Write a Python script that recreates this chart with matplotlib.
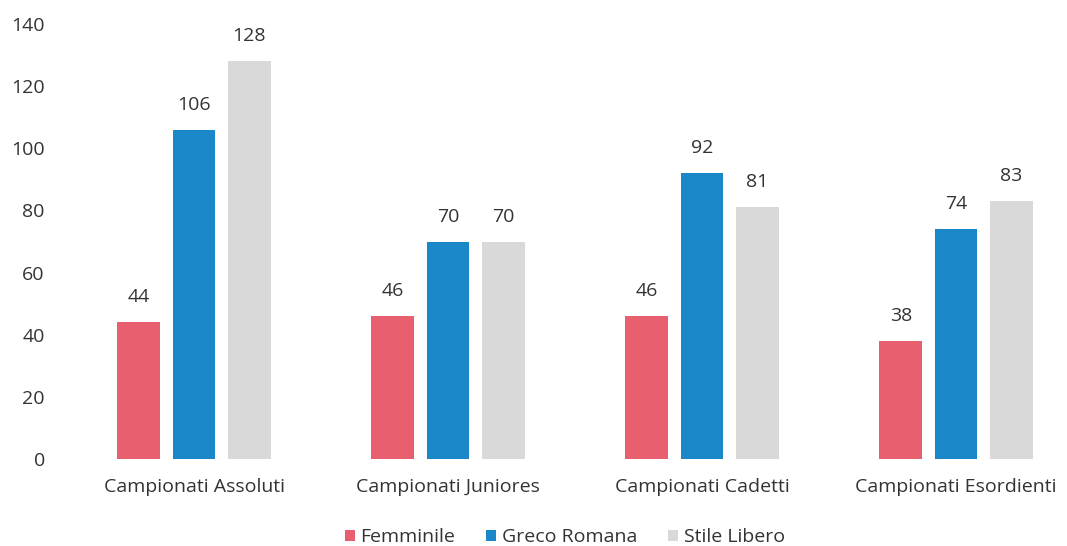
import numpy as np
import matplotlib.pyplot as plt

plt.rcParams['font.family'] = ['Open Sans', 'DejaVu Sans']

categories = ["Campionati Assoluti", "Campionati Juniores", "Campionati Cadetti", "Campionati Esordienti"]
series = ["Femminile", "Greco Romana", "Stile Libero"]
femminile = [44, 46, 46, 38]
greco_romana = [106, 70, 92, 74]
stile_libero = [128, 70, 81, 83]
colors = ["#E8606F", "#1A88C8", "#D9D9D9"]

fig = plt.figure(figsize=(10.67, 5.46), dpi=100)
ax = fig.add_axes([67 / 1067, (546 - 459) / 546, 1 - 67 / 1067, 435 / 546])

x = np.arange(len(categories))
width = 0.169
step = 0.217
for i, (vals, name, col) in enumerate(zip([femminile, greco_romana, stile_libero], series, colors)):
    bars = ax.bar(x + (i - 1) * step, vals, width, color=col, label=name)
    for b, v in zip(bars, vals):
        ax.annotate(str(v), (b.get_x() + b.get_width() / 2, v), xytext=(0, 18),
                    textcoords="offset points", ha="center", va="center",
                    fontsize=14, color="#333333")

ax.set_xlim(-0.5, (1067 - 194) / 254)
ax.set_ylim(0, 140)
ax.set_yticks(range(0, 141, 20))
ax.set_xticks(x)
ax.set_xticklabels(categories, fontsize=14, color="#333333")
ax.tick_params(axis="y", length=0, labelsize=14, labelcolor="#333333", pad=16)
ax.tick_params(axis="x", length=0, pad=14)
for s in ax.spines.values():
    s.set_visible(False)

ax.legend(loc="center", bbox_to_anchor=(565 / 1067, 9 / 546), bbox_transform=fig.transFigure,
          ncol=3, frameon=False, fontsize=14, handlelength=0.5, handleheight=0.5,
          columnspacing=1.6, handletextpad=0.3, labelcolor="#333333")

fig.savefig("out.png", dpi=100)
